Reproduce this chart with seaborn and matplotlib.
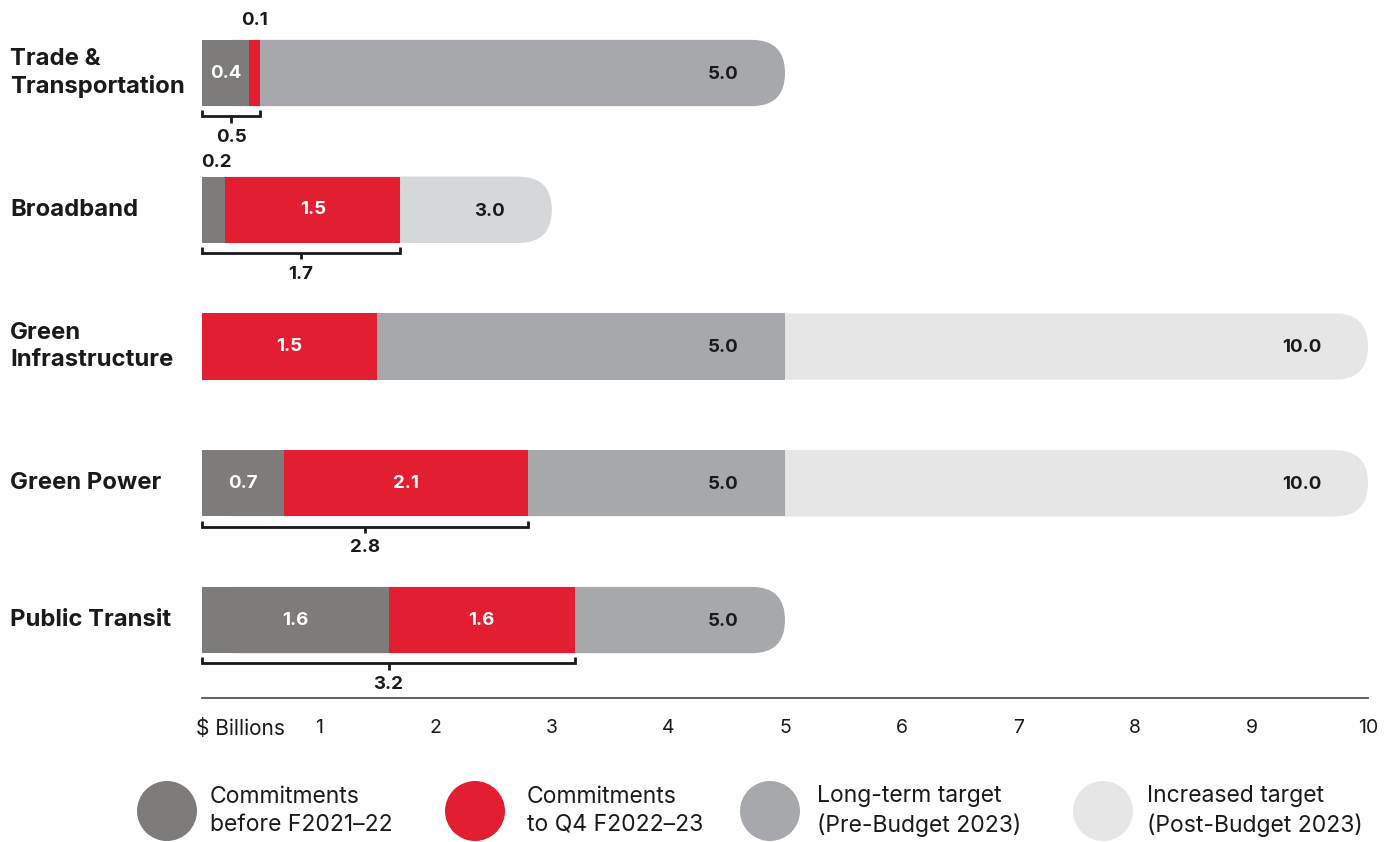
import matplotlib
matplotlib.use("Agg")
import matplotlib.pyplot as plt
from matplotlib.patches import FancyBboxPatch, Ellipse
from matplotlib.transforms import blended_transform_factory, ScaledTranslation
import seaborn as sns
import pandas as pd

# ---------------- data ----------------
categories = ["Trade &\nTransportation", "Broadband", "Green\nInfrastructure", "Green Power", "Public Transit"]
before = [0.4, 0.2, 0.0, 0.7, 1.6]          # Commitments before F2021-22
q4 = [0.1, 1.5, 1.5, 2.1, 1.6]              # Commitments to Q4 F2022-23
pre_target = [5.0, 0.0, 5.0, 5.0, 5.0]      # Long-term target (Pre-Budget 2023)
post_target = [0.0, 3.0, 10.0, 10.0, 0.0]   # Increased target (Post-Budget 2023)
xticks = [0, 1, 2, 3, 4, 5, 6, 7, 8, 9, 10]
xticklabels = ["$ Billions", "1", "2", "3", "4", "5", "6", "7", "8", "9", "10"]
legend_labels = ["Commitments\nbefore F2021\u201322", "Commitments\nto Q4 F2022\u201323",
                 "Long-term target\n(Pre-Budget 2023)", "Increased target\n(Post-Budget 2023)"]

C_DARK = "#7d7c7a"
C_RED = "#e41e31"
C_MID = "#a7a8ab"
C_LIGHT = "#e6e6e6"
C_BROAD = "#d6d7d9"
TXT = "#1a1a1a"

sns.set_theme(style="white")
plt.rcParams["font.family"] = ["Inter", "DejaVu Sans"]

W, H = 1386, 842
fig = plt.figure(figsize=(W / 100, H / 100), dpi=100)
ax_l, ax_r, ax_t, ax_b = 202, 1368, 0, 698
ax = fig.add_axes([ax_l / W, 1 - ax_b / H, (ax_r - ax_l) / W, (ax_b - ax_t) / H])

df = pd.DataFrame({"cat": categories, "before": before, "q4": q4,
                   "pre": pre_target, "post": post_target})
df["committed"] = df["before"] + df["q4"]
df["outer"] = df[["pre", "post"]].max(axis=1)
df["inner"] = [p if (p > 0 and o > 0) else 0 for p, o in zip(df["pre"], df["post"])]
outer_colors = []
for p, o in zip(pre_target, post_target):
    if o == 0:
        outer_colors.append(C_MID)
    elif p == 0:
        outer_colors.append(C_BROAD)
    else:
        outer_colors.append(C_LIGHT)

BW = 0.485
ylim = (4.57, -0.534)
nolines = dict(linewidth=0, edgecolor="none")

# outer target (converted into pills below)
sns.barplot(data=df, x="outer", y="cat", hue="cat", palette=outer_colors, legend=False,
            width=BW, ax=ax, saturation=1, orient="h", **nolines)
ax.set_xlim(0, 10)
ax.set_ylim(*ylim)

px_per_x = (ax_r - ax_l) / 10.0
px_per_y = (ax_b - ax_t) / (ylim[0] - ylim[1])
half_h_px = BW * px_per_y / 2
r_x = half_h_px / px_per_x
mut_aspect = (BW / 2) / r_x
old = list(ax.patches)
for rect, col in zip(old, outer_colors):
    x0, y0 = rect.get_x(), rect.get_y()
    w, h = rect.get_width(), rect.get_height()
    rect.remove()
    if w <= 0:
        continue
    pill = FancyBboxPatch((x0, y0), w, h,
                          boxstyle=f"round,pad=0,rounding_size={r_x}",
                          mutation_aspect=mut_aspect, facecolor=col, edgecolor="none",
                          linewidth=0, zorder=1)
    ax.add_patch(pill)

sns.barplot(data=df, x="inner", y="cat", color=C_MID, width=BW, ax=ax, saturation=1,
            orient="h", zorder=2, **nolines)
sns.barplot(data=df, x="committed", y="cat", color=C_RED, width=BW, ax=ax, saturation=1,
            orient="h", zorder=3, **nolines)
sns.barplot(data=df, x="before", y="cat", color=C_DARK, width=BW, ax=ax, saturation=1,
            orient="h", zorder=4, **nolines)
ax.set_xlim(0, 10)
ax.set_ylim(*ylim)

# ---------------- value labels ----------------
vfs = 13.5
for i in range(len(categories)):
    b, q, p, o = before[i], q4[i], pre_target[i], post_target[i]
    if b >= 0.3:
        ax.text(b / 2, i, f"{b:.1f}", ha="center", va="center", color="white",
                fontsize=vfs, fontweight="bold", zorder=6)
    elif b > 0:
        ax.text(b / 2 + 0.02, i - BW / 2 - 0.1, f"{b:.1f}", ha="center", va="center", color=TXT,
                fontsize=vfs, fontweight="bold", zorder=6)
    if q >= 0.3:
        ax.text(b + q / 2, i, f"{q:.1f}", ha="center", va="center", color="white",
                fontsize=vfs, fontweight="bold", zorder=6)
    else:
        ax.text(b + q / 2, i - BW / 2 - 0.14, f"{q:.1f}", ha="center", va="center", color=TXT,
                fontsize=vfs, fontweight="bold", zorder=6)
    for t in (p, o):
        if t > 0:
            ax.text(t - 0.40, i + 0.01, f"{t:.1f}", ha="right", va="center", color=TXT,
                    fontsize=vfs, fontweight="bold", zorder=6)
    if b > 0 and q > 0:
        tot = b + q
        yb = i + BW / 2 + 0.075
        tk = 0.045
        ax.plot([0, 0, tot, tot], [yb - tk, yb, yb, yb - tk], color=TXT, lw=2,
                solid_joinstyle="miter", solid_capstyle="butt", zorder=6, clip_on=False)
        ax.plot([tot / 2, tot / 2], [yb, yb + tk], color=TXT, lw=2, solid_capstyle="butt",
                zorder=6, clip_on=False)
        ax.text(tot / 2, yb + 0.155, f"{tot:.1f}", ha="center", va="center", color=TXT,
                fontsize=vfs, fontweight="bold", zorder=6)

# ---------------- axes styling ----------------
for s in ["top", "right", "left"]:
    ax.spines[s].set_visible(False)
ax.spines["bottom"].set_color("#555555")
ax.spines["bottom"].set_linewidth(1.3)
ax.set_xlabel("")
ax.set_ylabel("")
ax.set_yticks([])
ax.set_xticks(xticks)
ax.set_xticklabels(xticklabels)
ax.tick_params(axis="x", length=0, pad=15, labelsize=14, labelcolor=TXT)
first = ax.get_xticklabels()[0]
first.set_ha("left")
first.set_fontsize(15)
first.set_transform(first.get_transform() + ScaledTranslation(-6 / 100, 0, fig.dpi_scale_trans))

# category labels
tr = blended_transform_factory(fig.transFigure, ax.transData)
for i, c in enumerate(categories):
    ax.text(10 / W, i, c, transform=tr, ha="left", va="center", fontsize=17.2,
            fontweight="bold", color=TXT, linespacing=1.3)

# ---------------- legend ----------------
leg_colors = [C_DARK, C_RED, C_MID, C_LIGHT]
cx = [167, 475, 770, 1103]
tx = [210, 527, 817, 1147]
cy = 811
d = 60
for col, x, t, lab in zip(leg_colors, cx, tx, legend_labels):
    e = Ellipse((x / W, 1 - cy / H), d / W, d / H, transform=fig.transFigure,
                facecolor=col, edgecolor="none")
    fig.add_artist(e)
    fig.text(t / W, 1 - cy / H, lab, ha="left", va="center", fontsize=16.5, color=TXT,
             linespacing=1.35)

fig.savefig("out.png", dpi=100)
